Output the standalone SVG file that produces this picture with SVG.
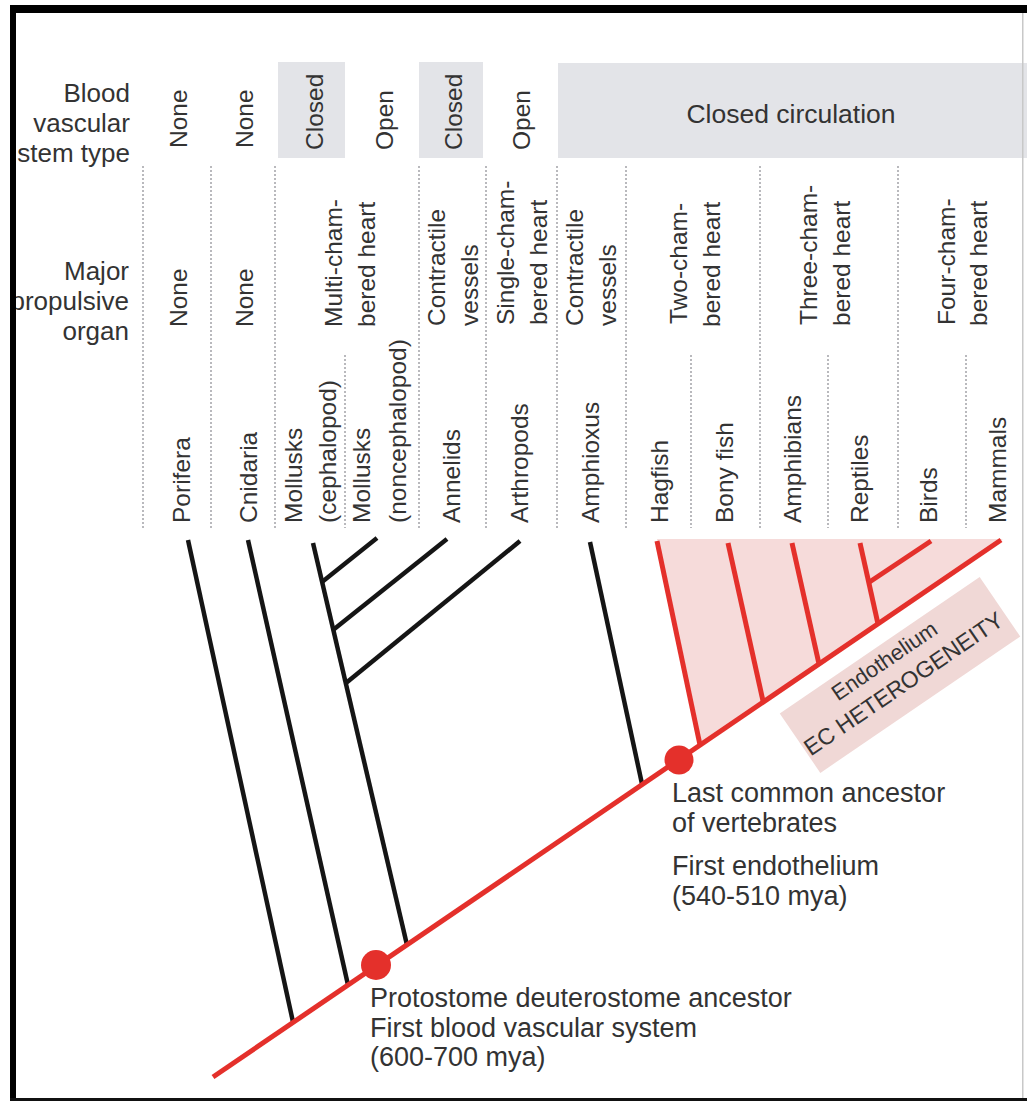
<svg xmlns="http://www.w3.org/2000/svg" width="1027" height="1101" viewBox="0 0 1027 1101">
<defs>
<style>
text{font-family:"Liberation Sans",Arial,sans-serif;fill:#333}
.lbl{font-size:26px}
.note{font-size:27px}
.rot{font-size:24.5px}
.hdr{fill:#e3e4e8}
.dot{stroke:#b9b9bd;stroke-width:2;stroke-dasharray:2 2;fill:none}
.blk{stroke:#151515;stroke-width:4.5;fill:none;stroke-linecap:butt}
.red{stroke:#e4302b;stroke-width:5;fill:none}
.nodec{fill:#e4302b}
</style>
<clipPath id="frameclip"><rect x="16" y="13" width="1011" height="1085"/></clipPath>
</defs>
<rect width="1027" height="1101" fill="#fff"/>

<g id="header-boxes">
<rect class="hdr" x="278" y="62" width="67" height="96"/>
<rect class="hdr" x="419" y="62" width="64" height="96"/>
<rect class="hdr" x="558" y="63" width="469" height="95"/>
</g>

<g id="row-labels" clip-path="url(#frameclip)">
<text class="lbl" text-anchor="end" x="130" y="102">Blood</text>
<text class="lbl" text-anchor="end" x="130" y="132">vascular</text>
<text class="lbl" text-anchor="end" x="130" y="162">stem type</text>
<text class="lbl" text-anchor="end" x="129" y="280">Major</text>
<text class="lbl" text-anchor="end" x="129" y="310">propulsive</text>
<text class="lbl" text-anchor="end" x="129" y="340">organ</text>
</g>

<g id="separators">
<path class="dot" d="M143 166V528M211 166V528M275 166V528M419 166V528M486 166V528M557 166V528M626 166V528M760 166V528M898 166V528"/>
<path class="dot" d="M345 355V528M691 355V528M828 355V528M966 355V528"/>
</g>

<g id="circulation-type">
<text class="rot" transform="translate(187,148) rotate(-90)">None</text>
<text class="rot" transform="translate(253,148) rotate(-90)">None</text>
<text class="rot" transform="translate(323,150) rotate(-90)">Closed</text>
<text class="rot" transform="translate(393,150) rotate(-90)">Open</text>
<text class="rot" transform="translate(462,150) rotate(-90)">Closed</text>
<text class="rot" transform="translate(530,150) rotate(-90)">Open</text>
<text text-anchor="middle" x="791" y="123" font-size="26.5">Closed circulation</text>
</g>

<g id="propulsive-organ">
<text class="rot" transform="translate(187,327) rotate(-90)">None</text>
<text class="rot" transform="translate(253,327) rotate(-90)">None</text>
<text class="rot" transform="translate(342,327) rotate(-90)">Multi-cham-</text>
<text class="rot" transform="translate(375,327) rotate(-90)">bered heart</text>
<text class="rot" transform="translate(445,326) rotate(-90)">Contractile</text>
<text class="rot" transform="translate(478,326) rotate(-90)">vessels</text>
<text class="rot" transform="translate(514,325) rotate(-90)">Single-cham-</text>
<text class="rot" transform="translate(547,325) rotate(-90)">bered heart</text>
<text class="rot" transform="translate(583,326) rotate(-90)">Contractile</text>
<text class="rot" transform="translate(616,326) rotate(-90)">vessels</text>
<text class="rot" transform="translate(687,324) rotate(-90)">Two-cham-</text>
<text class="rot" transform="translate(720,327) rotate(-90)">bered heart</text>
<text class="rot" transform="translate(817,325) rotate(-90)">Three-cham-</text>
<text class="rot" transform="translate(850,326) rotate(-90)">bered heart</text>
<text class="rot" transform="translate(955,325) rotate(-90)">Four-cham-</text>
<text class="rot" transform="translate(987,326) rotate(-90)">bered heart</text>
</g>

<g id="taxa">
<text class="rot" transform="translate(190,523) rotate(-90)">Porifera</text>
<text class="rot" transform="translate(257,523) rotate(-90)">Cnidaria</text>
<text class="rot" transform="translate(302,523) rotate(-90)">Mollusks</text>
<text class="rot" transform="translate(336,523) rotate(-90)">(cephalopod)</text>
<text class="rot" transform="translate(370,523) rotate(-90)">Mollusks</text>
<text class="rot" transform="translate(406,523) rotate(-90)">(noncephalopod)</text>
<text class="rot" transform="translate(460,523) rotate(-90)">Annelids</text>
<text class="rot" transform="translate(528,523) rotate(-90)">Arthropods</text>
<text class="rot" transform="translate(599,523) rotate(-90)">Amphioxus</text>
<text class="rot" transform="translate(668,523) rotate(-90)">Hagfish</text>
<text class="rot" transform="translate(733,523) rotate(-90)">Bony fish</text>
<text class="rot" transform="translate(801,523) rotate(-90)">Amphibians</text>
<text class="rot" transform="translate(868,523) rotate(-90)">Reptiles</text>
<text class="rot" transform="translate(937,523) rotate(-90)">Birds</text>
<text class="rot" transform="translate(1006,523) rotate(-90)">Mammals</text>
</g>

<g id="vertebrate-shade">
<polygon points="657,539 1003,539 700,745" fill="#f6dbda"/>
</g>

<g id="heterogeneity-label" transform="translate(900,675) rotate(-34.3)">
<rect x="-121" y="-36" width="242" height="72" fill="#f0d8d6"/>
<text text-anchor="middle" x="-5" y="-13" font-size="22">Endothelium</text>
<text text-anchor="middle" x="-2" y="17" font-size="23">EC HETEROGENEITY</text>
</g>

<g id="connectors">
<line class="blk" x1="188" y1="540" x2="293" y2="1022"/>
<line class="blk" x1="248" y1="540" x2="348" y2="985"/>
<line class="blk" x1="313" y1="543" x2="407" y2="945"/>
<line class="blk" x1="322" y1="582" x2="377" y2="538"/>
<line class="blk" x1="333" y1="630" x2="447" y2="539"/>
<line class="blk" x1="346" y1="683" x2="520" y2="541"/>
<line class="blk" x1="590" y1="542" x2="642" y2="784"/>
<line class="red" x1="213" y1="1077" x2="1001" y2="540"/>
<line class="red" x1="657" y1="541" x2="700" y2="745"/>
<line class="red" x1="728" y1="543" x2="763" y2="701"/>
<line class="red" x1="792" y1="543" x2="819" y2="664"/>
<line class="red" x1="860" y1="543" x2="878" y2="624"/>
<line class="red" x1="868" y1="583" x2="931" y2="541"/>
</g>

<g id="node-protostome-deuterostome">
<circle class="nodec" cx="376" cy="965" r="15"/>
<text class="note" x="370" y="1007">Protostome deuterostome ancestor</text>
<text class="note" x="370" y="1037">First blood vascular system</text>
<text class="note" x="370" y="1066">(600-700 mya)</text>
</g>

<g id="node-vertebrates">
<circle class="nodec" cx="679" cy="760" r="14.5"/>
<text class="note" x="672" y="802">Last common ancestor</text>
<text class="note" x="672" y="832">of vertebrates</text>
<text class="note" x="672" y="875">First endothelium</text>
<text class="note" x="672" y="905">(540-510 mya)</text>
</g>

<g id="frame">
<rect x="10" y="5" width="1017" height="8" fill="#000"/>
<rect x="10" y="5" width="6" height="1096" fill="#000"/>
<rect x="10" y="1098" width="1017" height="3" fill="#111"/>
<rect x="1022" y="13" width="1.5" height="1085" fill="#c8c8c8"/>
</g>
</svg>
